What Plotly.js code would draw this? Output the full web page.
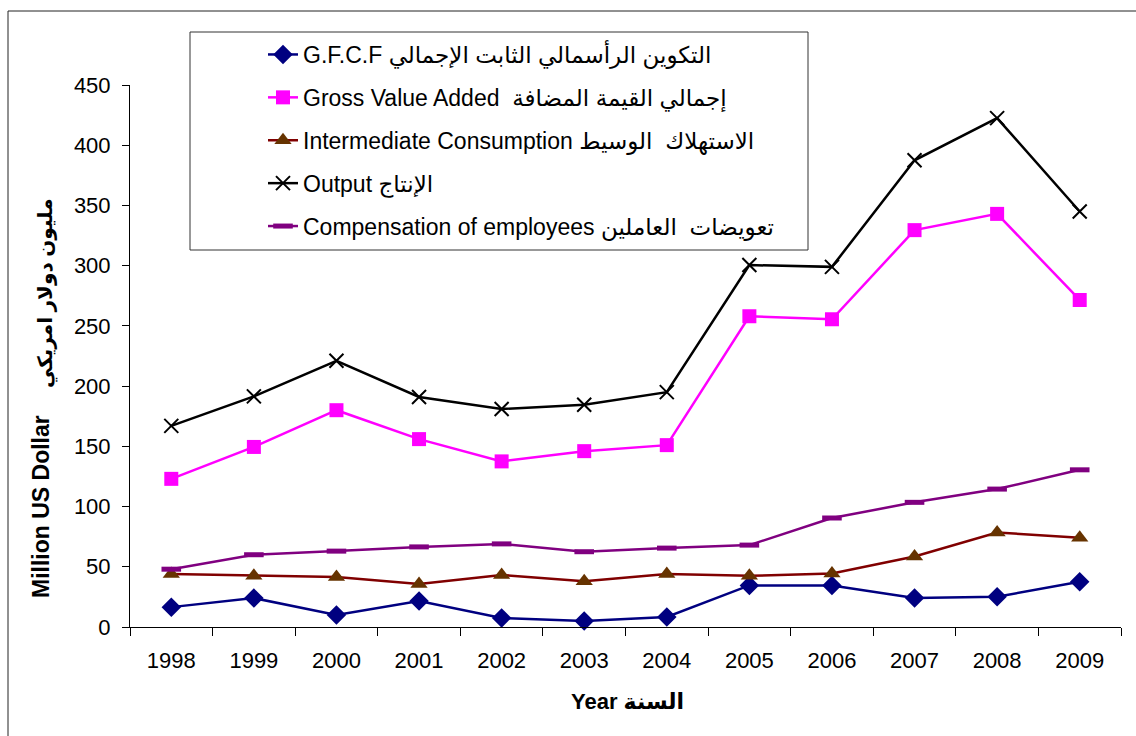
<!DOCTYPE html>
<html>
<head>
<meta charset="utf-8">
<script src="https://cdn.plot.ly/plotly-3.0.1.min.js"></script>
<style>html,body{margin:0;padding:0;background:#fff;}#chart{width:1136px;height:736px;}</style>
</head>
<body>
<div id="chart"></div>
<script>
const years = ['1998','1999','2000','2001','2002','2003','2004','2005','2006','2007','2008','2009'];
const gfcf = [16.5, 24, 10, 21.5, 7.5, 5, 8.3, 34.5, 34.5, 24, 25.2, 37.5];
const gva = [123, 149.5, 180, 156, 137.5, 146, 151, 258, 255.5, 329.5, 343, 271.5];
const intermediate = [44, 42.5, 41.5, 35.8, 43.2, 38, 44, 42.5, 44.5, 58.5, 78.5, 74];
const output = [167, 191.5, 221, 191, 181, 184.5, 195, 300.5, 299, 387.5, 422.5, 345];
const compensation = [48, 60, 63, 66.5, 69, 62.5, 65.5, 68, 90.5, 103.5, 114.5, 130.5];

const names = [
  'G.F.C.F التكوين الرأسمالي الثابت الإجمالي',
  'Gross Value Added  إجمالي القيمة المضافة',
  'Intermediate Consumption الاستهلاك  الوسيط',
  'Output الإنتاج',
  'Compensation of employees تعويضات  العاملين'
];

const FONT = 'Arial, "Liberation Sans", "DejaVu Sans", sans-serif';

const traces = [
  {y: gfcf, name: names[0], line: {color: '#000080', width: 2.5},
   marker: {symbol: 'diamond', size: 15, color: '#000080'}},
  {y: gva, name: names[1], line: {color: '#FF00FF', width: 2.5},
   marker: {symbol: 'square', size: 14, color: '#FF00FF'}},
  {y: intermediate, name: names[2], line: {color: '#800000', width: 2.5},
   marker: {symbol: 'triangle-up', size: 15, color: '#663300'}},
  {y: output, name: names[3], line: {color: '#000000', width: 2.5},
   marker: {symbol: 'x-thin', size: 14, color: '#000000', line: {width: 2, color: '#000000'}}},
  {y: compensation, name: names[4], line: {color: '#800080', width: 2.5},
   marker: {symbol: 'line-ew', size: 14, color: '#800080', line: {width: 5, color: '#800080'}}}
].map((t, i) => Object.assign({
  x: years, type: 'scatter', mode: 'lines+markers', legendgroup: 'g' + i, cliponaxis: false
}, t));

const L = 130, R = 1121, T = 85, B = 627;
const px = v => (v - L) / (R - L);
const py = v => (B - v) / (B - T);

const layout = {
  width: 1136, height: 736,
  margin: {l: L, r: 1136 - R, t: T, b: 736 - B, pad: 0},
  paper_bgcolor: '#ffffff', plot_bgcolor: '#ffffff',
  font: {family: FONT, color: '#000000', size: 22},
  showlegend: true,
  legend: {
    x: px(263), y: py(33), xanchor: 'left', yanchor: 'top',
    bgcolor: 'rgba(0,0,0,0)', borderwidth: 0,
    font: {family: FONT, size: 23, color: '#000000'},
    tracegroupgap: 10, itemwidth: 30
  },
  xaxis: {
    type: 'category', showline: true, linecolor: '#000000', linewidth: 1,
    ticks: 'outside', tickson: 'boundaries', ticklen: 8, tickcolor: '#000000',
    showgrid: false, zeroline: false, ticklabelstandoff: 14,
    tickfont: {family: FONT, size: 22, color: '#000000'},
    range: [-0.5, 11.5], fixedrange: true
  },
  yaxis: {
    range: [0, 450], dtick: 50, tick0: 0, showline: true, linecolor: '#000000', linewidth: 1,
    ticks: 'outside', ticklen: 7, tickcolor: '#000000', showgrid: false, zeroline: false,
    tickfont: {family: FONT, size: 22, color: '#000000'}, ticklabelstandoff: 7
  },
  shapes: [
    {type: 'rect', xref: 'paper', yref: 'paper', x0: px(8), x1: px(1200), y0: py(800), y1: py(11),
     line: {color: '#222222', width: 1}, fillcolor: 'rgba(0,0,0,0)'},
    {type: 'rect', xref: 'paper', yref: 'paper', x0: px(190), x1: px(808), y0: py(250), y1: py(32),
     line: {color: '#333333', width: 1}, fillcolor: 'rgba(0,0,0,0)'}
  ],
  annotations: [
    {text: '<b>Million US Dollar</b>', xref: 'paper', yref: 'paper', x: px(41), y: py(507),
     showarrow: false, textangle: -90, font: {family: FONT, size: 23, color: '#000000'},
     xanchor: 'center', yanchor: 'middle'},
    {text: '<b>مليون دولار امريكي</b>', xref: 'paper', yref: 'paper', x: px(46), y: py(293),
     showarrow: false, textangle: -90, font: {family: FONT, size: 20, color: '#000000'},
     xanchor: 'center', yanchor: 'middle'},
    {text: '<b>Year السنة</b>', xref: 'paper', yref: 'paper', x: px(627), y: py(701),
     showarrow: false, font: {family: FONT, size: 22, color: '#000000'},
     xanchor: 'center', yanchor: 'middle'}
  ]
};

Plotly.newPlot('chart', traces, layout, {staticPlot: true, displayModeBar: false});
</script>
</body>
</html>
